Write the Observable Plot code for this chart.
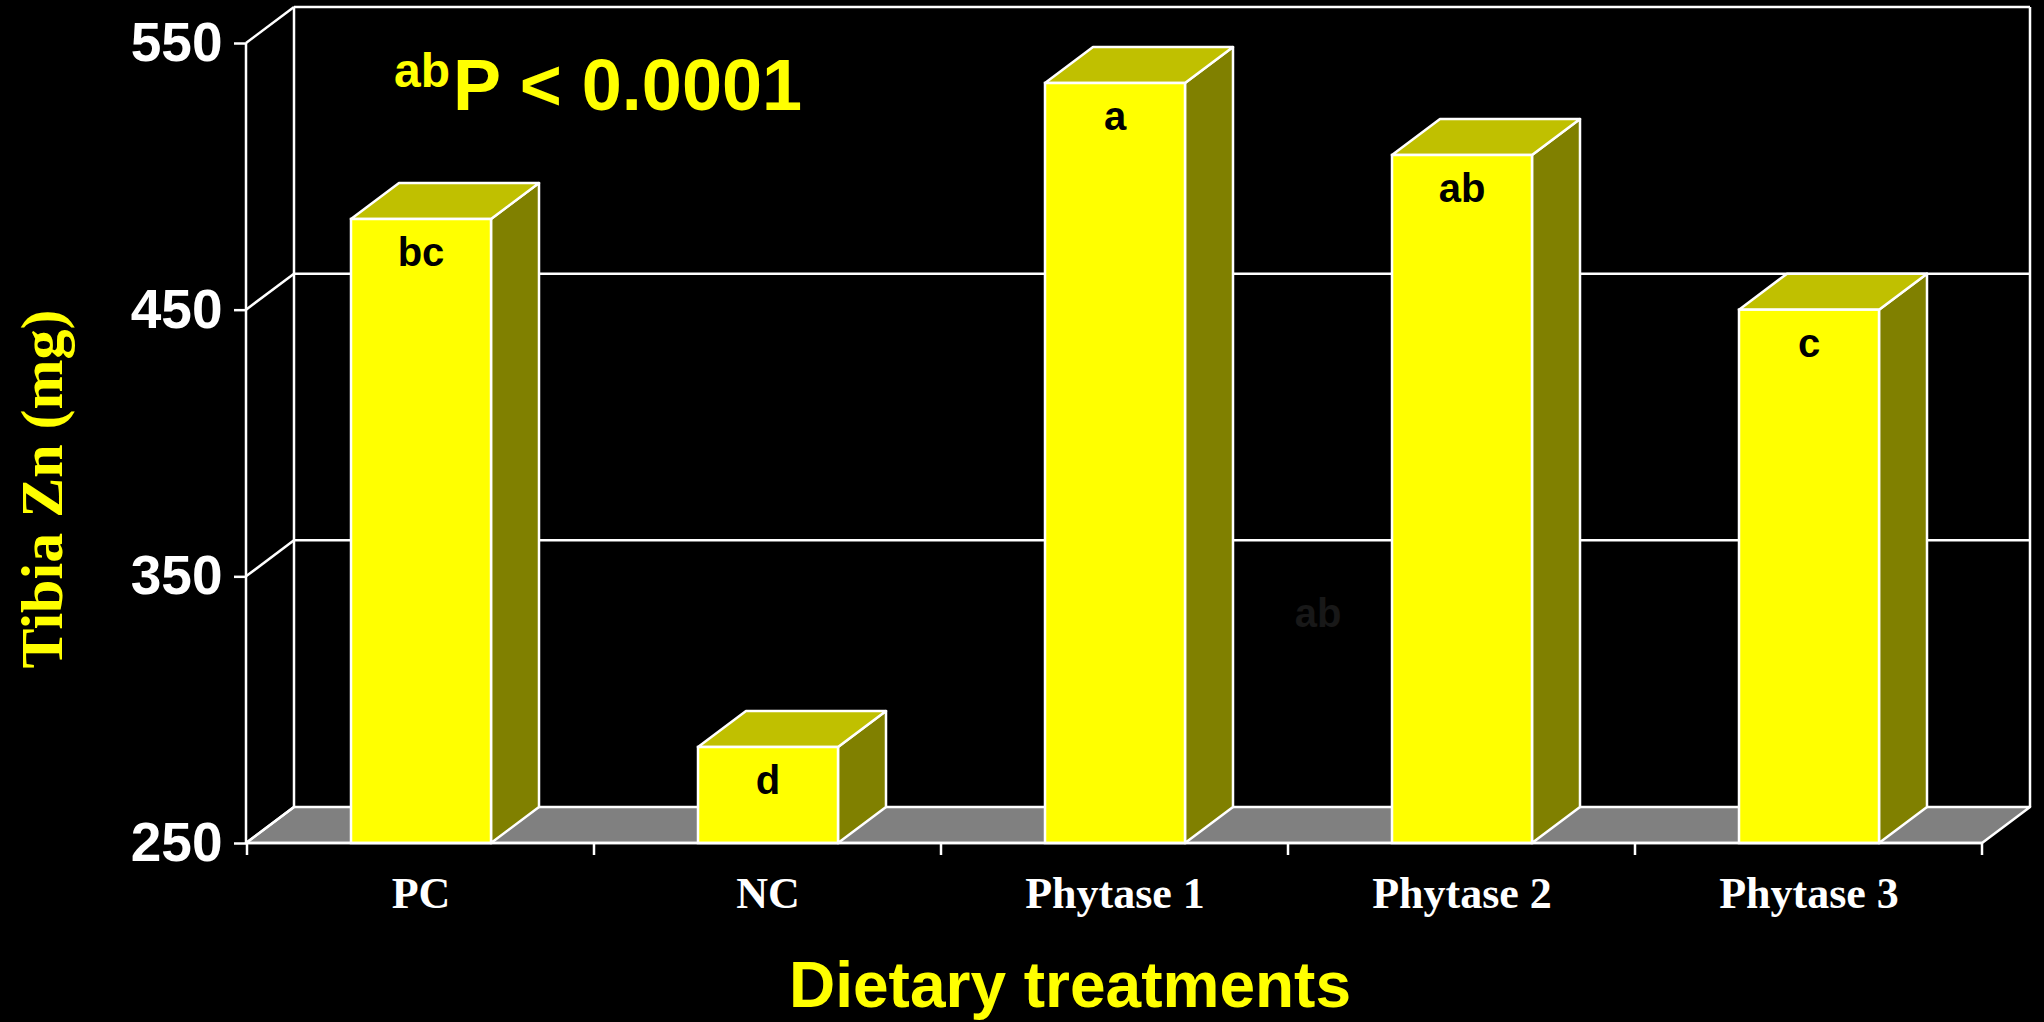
<!DOCTYPE html>
<html><head><meta charset="utf-8">
<script src="https://cdn.jsdelivr.net/npm/d3@7"></script>
<script src="https://cdn.jsdelivr.net/npm/@observablehq/plot@0.6"></script>
<style>
html,body{margin:0;padding:0;background:#000;overflow:hidden;}
</style>
</head><body><div id="chart"></div>
<script>
const categories = ["PC", "NC", "Phytase 1", "Phytase 2", "Phytase 3"];
const values = [484, 286, 535, 508, 450];
const letters = ["bc", "d", "a", "ab", "c"];
const yTicks = [250, 350, 450, 550];
const yLabel = "Tibia Zn (mg)";
const xLabel = "Dietary treatments";
const pSup = "ab";
const pText = "P < 0.0001";
const ghostLabel = "ab";
const ghostCategory = "Phytase 2";
const ghostValue = 336;

const data = categories.map((c, i) => ({cat: c, value: values[i], letter: letters[i]}));

const DX = 48, DY = -36;      // 3-D depth offset
const INSET_L = 104, INSET_R = 103;
const SANS = "Liberation Sans, Arial, sans-serif";
const SERIF = "Liberation Serif, Times New Roman, serif";
const NS = "http://www.w3.org/2000/svg";

function el(tag, attrs, text) {
  const e = document.createElementNS(NS, tag);
  for (const k in attrs) e.setAttribute(k, attrs[k]);
  if (text != null) e.textContent = text;
  return e;
}
function poly(pts, fill) {
  return el("polygon", {points: pts.map(p => p.join(",")).join(" "), fill, stroke: "#fff", "stroke-width": 2.5, "stroke-linejoin": "round"});
}
function line(x1, y1, x2, y2) {
  return el("line", {x1, y1, x2, y2, stroke: "#fff", "stroke-width": 2.5});
}
function bounds(scales, dims) {
  const x0 = dims.marginLeft, x1 = dims.width - dims.marginRight;
  const [d0, d1] = scales.y.domain();
  return {x0, x1, yb: scales.y(d0), yt: scales.y(d1)};
}

// back wall, side wall and floor
function walls(index, scales, vals, dims) {
  const {x0, x1, yb, yt} = bounds(scales, dims);
  const y = scales.y;
  const g = el("g", {});
  g.appendChild(poly([[x0, yb], [x1, yb], [x1 + DX, yb + DY], [x0 + DX, yb + DY]], "#808080"));
  for (const v of yTicks) {
    if (v !== yTicks[0]) g.appendChild(line(x0 + DX, y(v) + DY, x1 + DX, y(v) + DY));
    g.appendChild(line(x0, y(v), x0 + DX, y(v) + DY));
  }
  g.appendChild(line(x0 + DX, yt + DY, x0 + DX, yb + DY));
  g.appendChild(line(x1 + DX, yt + DY, x1 + DX, yb + DY));
  return g;
}

// top and side faces of the bars
function barFaces(index, scales, vals, dims) {
  const x = scales.x, y = scales.y;
  const bw = x.bandwidth ? x.bandwidth() : (dims.width - dims.marginLeft - dims.marginRight) / categories.length;
  const yb = y(y.domain()[0]);
  const g = el("g", {});
  data.forEach(d => {
    const bx0 = x(d.cat) + INSET_L, bx1 = x(d.cat) + bw - INSET_R, yv = y(d.value);
    g.appendChild(poly([[bx1, yb], [bx1, yv], [bx1 + DX, yv + DY], [bx1 + DX, yb + DY]], "#808000"));
    g.appendChild(poly([[bx0, yv], [bx1, yv], [bx1 + DX, yv + DY], [bx0 + DX, yv + DY]], "#C0C000"));
  });
  return g;
}

// front axis lines and band-boundary ticks
function frontAxes(index, scales, vals, dims) {
  const {x0, x1, yb, yt} = bounds(scales, dims);
  const x = scales.x;
  const bw = x.bandwidth ? x.bandwidth() : (x1 - x0) / categories.length;
  const g = el("g", {});
  g.appendChild(line(x0, yt, x0, yb));
  g.appendChild(line(x0, yb, x1, yb));
  const edges = categories.map(c => x(c)).concat([x(categories[categories.length - 1]) + bw]);
  for (const e of edges) g.appendChild(line(e, yb, e, yb + 12));
  return g;
}

// titles
function titles(index, scales, vals, dims) {
  const {x0, x1, yb, yt} = bounds(scales, dims);
  const g = el("g", {});
  const t = el("text", {x: x0 + 148, y: yt + 67, fill: "#ffff00", "font-family": SANS, "font-weight": "bold",
    "text-anchor": "start"});
  const s1 = el("tspan", {"font-size": 48, dy: -23}, pSup);
  const s2 = el("tspan", {"font-size": 72, dy: 23, dx: 3}, pText);
  t.appendChild(s1); t.appendChild(s2);
  g.appendChild(t);
  const cy = (yt + yb) / 2 + 46;
  g.appendChild(el("text", {transform: `translate(62,${cy}) rotate(-90)`, "text-anchor": "middle", fill: "#ffff00",
    "font-family": SERIF, "font-weight": "bold", "font-size": 60}, yLabel));
  g.appendChild(el("text", {x: (x0 + x1) / 2 - 44, y: dims.height - 15, "text-anchor": "middle", fill: "#ffff00",
    "font-family": SANS, "font-weight": "bold", "font-size": 64}, xLabel));
  return g;
}

const chart = Plot.plot({
  width: 2044,
  height: 1022,
  marginLeft: 246,
  marginRight: 62,
  marginTop: 43,
  marginBottom: 179,
  style: {background: "#000", color: "#fff", fontFamily: SANS},
  x: {type: "band", domain: categories, padding: 0},
  y: {domain: [yTicks[0], yTicks[yTicks.length - 1]]},
  marks: [
    walls,
    barFaces,
    Plot.barY(data, {x: "cat", y1: yTicks[0], y2: "value", fill: "#ffff00", stroke: "#fff", strokeWidth: 2.5,
      insetLeft: INSET_L, insetRight: INSET_R}),
    Plot.text(data, {x: "cat", y: "value", text: "letter", dy: 34, fill: "#000", fontSize: 40,
      fontWeight: "bold", fontFamily: SANS}),
    Plot.text([ghostLabel], {x: () => ghostCategory, y: () => ghostValue, text: d => d, dx: -144, fill: "#181818",
      fontSize: 40, fontWeight: "bold", fontFamily: SANS}),
    Plot.axisY({ticks: yTicks, tickSize: 12, tickPadding: 12, fontSize: 55, fontWeight: "bold",
      fontFamily: SANS, label: null, strokeWidth: 2.5}),
    Plot.axisX({tickSize: 0, tickPadding: 33, fontSize: 44, fontWeight: "bold", fontFamily: SERIF, label: null}),
    frontAxes,
    titles
  ]
});
document.getElementById("chart").appendChild(chart);
</script>
</body></html>
